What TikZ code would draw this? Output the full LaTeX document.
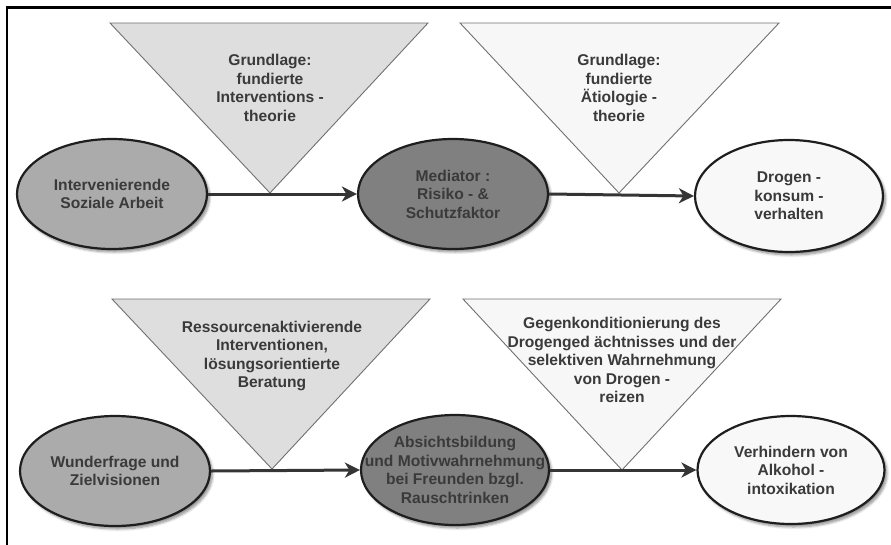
\documentclass[tikz,border=0pt]{standalone}
\usepackage{fontspec}
\setmainfont{Liberation Sans}
\usetikzlibrary{shapes.geometric,arrows.meta,shadows.blur}
\definecolor{txt}{HTML}{3A3A3A}
\definecolor{trilight}{HTML}{DEDEDE}
\definecolor{triwhite}{HTML}{F7F7F7}
\definecolor{elmid}{HTML}{ABABAB}
\definecolor{eldark}{HTML}{808080}
\definecolor{elwhite}{HTML}{F8F8F8}
\definecolor{edge}{HTML}{1E1E1E}
\definecolor{triedge}{HTML}{707070}
\begin{document}
\begin{tikzpicture}[x=1pt,y=-1pt,
  every node/.style={font=\fontsize{15.6}{18.5}\selectfont\bfseries, text=txt, align=center, inner sep=0pt},
  oval/.style={ellipse, draw=edge, line width=2.2pt, minimum width=190pt, minimum height=110pt,
    blur shadow={shadow xshift=2.5pt, shadow yshift=-3pt, shadow blur steps=6, shadow opacity=45, shadow blur radius=2.5pt}},
  tri/.style={draw=triedge, line width=0.9pt, line join=miter},
  conn/.style={draw=edge!90, line width=3pt, -{Stealth[length=15pt,width=15pt,inset=4.5pt]}},
  frameline/.style={draw=black, line width=2.6pt}
]
\useasboundingbox (0,0) rectangle (891,544);
% frame (top and left edges visible)
\draw[frameline] (7,560) -- (7,7.5) -- (900,7.5);

% triangles top row
\coordinate (t1a) at (110,23); \coordinate (t1b) at (428,23); \coordinate (t1c) at (270,193);
\fill[trilight] (t1a) -- (t1b) -- (t1c) -- cycle;
\draw[tri] (t1a) -- (t1b) -- (t1c) -- cycle;
\node (t1txt) at (270,88) {Grundlage:\\fundierte\\Interventions -\\theorie};

\coordinate (t2a) at (460,23); \coordinate (t2b) at (779,23); \coordinate (t2c) at (619,193);
\fill[triwhite] (t2a) -- (t2b) -- (t2c) -- cycle;
\draw[tri] (t2a) -- (t2b) -- (t2c) -- cycle;
\node (t2txt) at (619,88) {Grundlage:\\fundierte\\Ätiologie -\\theorie};

% triangles bottom row
\coordinate (t3a) at (112,299); \coordinate (t3b) at (430,299); \coordinate (t3c) at (272,469);
\fill[trilight] (t3a) -- (t3b) -- (t3c) -- cycle;
\draw[tri] (t3a) -- (t3b) -- (t3c) -- cycle;
\node (t3txt) at (272,356) {Ressourcenaktivierende\\Interventionen,\\lösungsorientierte\\Beratung};

\coordinate (t4a) at (463,299); \coordinate (t4b) at (781,299); \coordinate (t4c) at (622,470);
\fill[triwhite] (t4a) -- (t4b) -- (t4c) -- cycle;
\draw[tri] (t4a) -- (t4b) -- (t4c) -- cycle;
\node (t4txt) at (622,360) {Gegenkonditionierung des\\Drogenged ächtnisses und der\\selektiven Wahrnehmung\\von Drogen -\\reizen};

% ellipses top row
\node[oval, fill=elmid, label={[name=e1t]center:{Intervenierende\\Soziale Arbeit}}] (e1) at (112,194) {};
\node[oval, fill=eldark, label={[name=e2t]center:{Mediator :\\Risiko - \&\\Schutzfaktor}}] (e2) at (453,194) {};
\node[oval, fill=elwhite, minimum width=188pt, minimum height=112pt, label={[name=e3t]center:{Drogen -\\konsum -\\verhalten}}] (e3) at (789,196) {};

% ellipses bottom row
\node[oval, fill=elmid, label={[name=e4t]center:{Wunderfrage und\\Zielvisionen}}] (e4) at (115,471) {};
\node[oval, fill=eldark, minimum width=188pt, label={[name=e5t]center:{Absichtsbildung\\und Motivwahrnehmung\\bei Freunden bzgl.\\Rauschtrinken}}] (e5) at (455,470) {};
\node[oval, fill=elwhite, minimum width=187pt, minimum height=108pt, label={[name=e6t]center:{Verhindern von\\Alkohol -\\intoxikation}}] (e6) at (791,470) {};

% connectors
\draw[conn] (e1.east) -- (e2.west);
\draw[conn] (e2.east) -- (e3.west);
\draw[conn] (e4.east) -- (e5.west);
\draw[conn] (e5.east) -- (e6.west);
\end{tikzpicture}
\end{document}
